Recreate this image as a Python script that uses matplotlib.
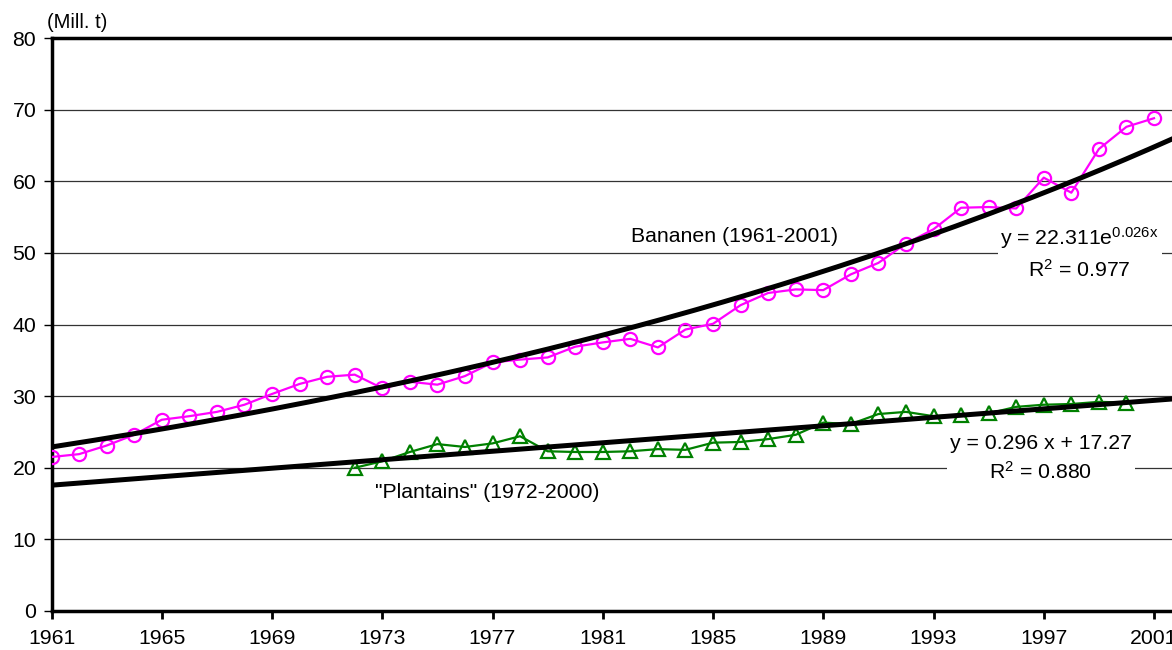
import numpy as np
import matplotlib
matplotlib.use("Agg")
import matplotlib.pyplot as plt

plt.rcParams['font.family'] = ['Liberation Sans', 'DejaVu Sans']
plt.rcParams['mathtext.fontset'] = 'custom'
plt.rcParams['mathtext.rm'] = 'Liberation Sans'
plt.rcParams['mathtext.it'] = 'Liberation Sans'

# Bananen 1961-2001 (Mill. t)
banana_years = list(range(1961, 2002))
banana_vals = [21.5, 21.9, 23.1, 24.6, 26.7, 27.2, 27.8, 28.8, 30.3, 31.7,
               32.7, 33.0, 31.1, 32.0, 31.6, 32.8, 34.7, 35.1, 35.4, 36.9,
               37.5, 38.0, 36.8, 39.3, 40.1, 42.7, 44.4, 44.9, 44.8, 47.0,
               48.6, 51.3, 53.3, 56.3, 56.4, 56.2, 60.5, 58.4, 64.5, 67.6,
               68.8]

# "Plantains" 1972-2000 (Mill. t)
plantain_years = list(range(1972, 2001))
plantain_vals = [20.0, 20.9, 22.2, 23.3, 22.9, 23.4, 24.4, 22.3, 22.2, 22.2,
                 22.3, 22.6, 22.5, 23.5, 23.6, 24.0, 24.6, 26.3, 26.1, 27.5,
                 27.8, 27.2, 27.4, 27.6, 28.5, 28.8, 28.9, 29.2, 29.1]

# trend line parameters (x = year - 1960)
exp_a, exp_b = 22.311, 0.026
lin_m, lin_c = 0.296, 17.27

xticks = list(range(1961, 2002, 4))
yticks = list(range(0, 81, 10))

fig = plt.figure(figsize=(11.72, 6.5), dpi=100)
ax = fig.add_axes([51.5 / 1172, 39 / 650, (1185 - 51.5) / 1172, 573 / 650])

x_end = 2001 + (1185 - 1154) / 27.57
ax.set_xlim(1961, x_end)
ax.set_ylim(0, 80)

for y in yticks[1:-1]:
    ax.axhline(y, color='#333333', lw=0.9, zorder=1)

ax.plot(banana_years, banana_vals, color='#FF00FF', lw=1.6, marker='o',
        ms=9.5, mfc='none', mec='#FF00FF', mew=1.6, zorder=3)
ax.plot(plantain_years, plantain_vals, color='#008000', lw=1.6, marker='^',
        ms=9.5, mfc='none', mec='#008000', mew=1.6, zorder=3)

tx = np.linspace(1961, x_end + 1, 200)
ax.plot(tx, exp_a * np.exp(exp_b * (tx - 1960)), color='black', lw=3.6,
        zorder=4, solid_capstyle='butt')
ax.plot(tx, lin_m * (tx - 1960) + lin_c, color='black', lw=3.6,
        zorder=4, solid_capstyle='butt')

ax.text(1985.8, 52.3, 'Bananen (1961-2001)', fontsize=15.3, ha='center',
        va='center', zorder=5)
ax.text(1976.8, 16.6, '"Plantains" (1972-2000)', fontsize=15.3, ha='center',
        va='center', zorder=5)

ax.text(1998.3, 50.0, 'y = 22.311e$^{\\mathrm{0.026x}}$\nR$^{\\mathrm{2}}$ = 0.977',
        fontsize=15.3, ha='center', va='center', linespacing=1.4, zorder=6,
        bbox=dict(facecolor='white', edgecolor='none', pad=2))
ax.text(1996.9, 21.3, 'y = 0.296 x + 17.27\nR$^{\\mathrm{2}}$ = 0.880',
        fontsize=15.3, ha='center', va='center', linespacing=1.4, zorder=6,
        bbox=dict(facecolor='white', edgecolor='none', pad=2))

ax.set_xticks(xticks)
ax.set_yticks(yticks)
ax.tick_params(axis='x', direction='out', length=6, width=2, labelsize=15.3, pad=7)
ax.tick_params(axis='y', direction='out', length=6, width=1, labelsize=15.3, pad=5)

for side in ['left', 'top', 'bottom']:
    ax.spines[side].set_linewidth(2.5)
ax.spines['right'].set_visible(False)

fig.text(47 / 1172, 1 - 22 / 650, '(Mill. t)', fontsize=14.5, ha='left',
         va='center')

fig.savefig('out.png', dpi=100)
